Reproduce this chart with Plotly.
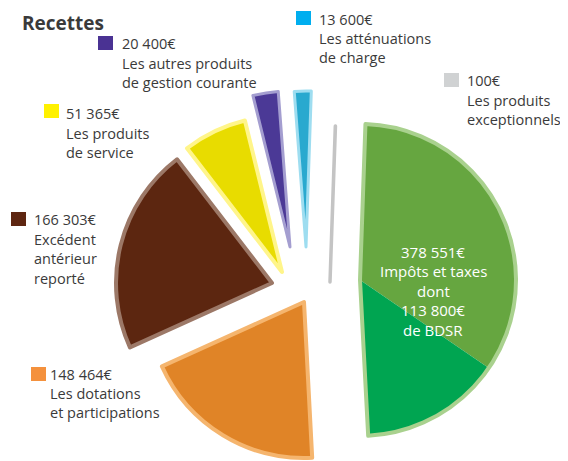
import plotly.graph_objects as go

# ---------------- data ----------------
categories = [
    "Impôts et taxes",
    "Les dotations et participations",
    "Excédent antérieur reporté",
    "Les produits de service",
    "Les autres produits de gestion courante",
    "Les atténuations de charge",
    "Les produits exceptionnels",
]
amounts = [378551, 148464, 166303, 51365, 20400, 13600, 100]
amount_labels = ["378 551€", "148 464€", "166 303€", "51 365€", "20 400€", "13 600€", "100€"]
bdsr = 113800  # part of "Impôts et taxes"
bdsr_label = "113 800€"

# label lines as printed on the chart
label_lines = {
    1: ["Les dotations", "et participations"],
    2: ["Excédent", "antérieur", "reporté"],
    3: ["Les produits", "de service"],
    4: ["Les autres produits", "de gestion courante"],
    5: ["Les atténuations", "de charge"],
    6: ["Les produits", "exceptionnels"],
}

# ---------------- styles / layout ----------------
OFF = 8                      # page body margin of the html page
W, H = 568 - OFF, 461 - OFF  # figure size so that it fills the window
R = 156
ROT = 2
FONT = "'Open Sans', Lato, sans-serif"
FS = 14.5
LINE = 19.4
TEXT = "#3a3a3a"

fill_colors = ["#66A640", "#E08427", "#5C2610", "#E8DC00", "#4B3996", "#29A9CF", "#BEBEBE"]
bevel_colors = ["#A9D18E", "#F5B56E", "#9C7867", "#FFF58A", "#A49ED0", "#9EDDF0", "#C4C4C4"]
bevel_widths = [4, 4, 4, 4, 3, 3, 3.5]
bdsr_color = "#00A551"
legend_colors = ["#66A640", "#F4913D", "#5E2611", "#FFF100", "#4A3293", "#00AEEF", "#D0D2D3"]

# apex (page pixel) where each exploded slice sits
slice_centers = [(360, 280), (304, 302), (272, 283), (282, 272), (290, 247), (306, 247), (330, 282)]

# label blocks in page pixels: (square left, square top, text x, first line y)
label_pos = {
    1: (31, 367, 49, 374),
    2: (11, 212, 33, 220),
    3: (44, 104, 65, 114),
    4: (98, 36, 121, 44),
    5: (296, 11, 318, 19),
    6: (444, 73, 466, 81),
}

TRANSP = "rgba(0,0,0,0)"


def px(x):
    return (x - OFF) / W


def py(y):
    return 1 - (y - OFF) / H


def domain_for(center):
    cx, cy = center
    x0 = max(0.0, px(cx - R))
    x1 = min(1.0, px(cx + R))
    y0 = max(0.0, py(cy + R))
    y1 = min(1.0, py(cy - R))
    return dict(x=[x0, x1], y=[y0, y1])


def pie(values, colors, lcolors, lwidths, center):
    return go.Pie(
        values=values,
        labels=[str(i) for i in range(len(values))],
        sort=False,
        direction="clockwise",
        rotation=ROT,
        marker=dict(colors=colors, line=dict(color=lcolors, width=lwidths)),
        textinfo="none",
        hoverinfo="skip",
        showlegend=False,
        domain=domain_for(center),
    )


fig = go.Figure()
n = len(amounts)

# green slice split into "Impôts et taxes" remainder and BDSR
split_vals = [amounts[0] - bdsr, bdsr] + amounts[1:]
split_cols = [fill_colors[0], bdsr_color] + [TRANSP] * (n - 1)
fig.add_trace(pie(split_vals, split_cols, [TRANSP] * len(split_vals), [0] * len(split_vals), slice_centers[0]))

# one trace per visible slice (exploded individually)
for i in range(n):
    cols = [TRANSP] * n
    lcols = [TRANSP] * n
    lw = [0] * n
    if i != 0:
        cols[i] = fill_colors[i]
    lcols[i] = bevel_colors[i]
    lw[i] = bevel_widths[i]
    fig.add_trace(pie(amounts, cols, lcols, lw, slice_centers[i]))

annotations = []
shapes = []


def text_line(x, y, s, color=TEXT, anchor="left", size=FS):
    return dict(xref="paper", yref="paper", x=px(x), y=py(y),
                xanchor=anchor, yanchor="middle", align=anchor, showarrow=False,
                text=s, font=dict(family=FONT, size=size, color=color))


for i, (sx, sy, tx, ty) in label_pos.items():
    shapes.append(dict(type="rect", xref="paper", yref="paper",
                       x0=px(sx), x1=px(sx + 15), y0=py(sy + 14), y1=py(sy),
                       fillcolor=legend_colors[i], line=dict(width=0)))
    lines = [amount_labels[i]] + label_lines[i]
    for k, s in enumerate(lines):
        annotations.append(text_line(tx - 1, ty + k * LINE, s))

# text inside the green slice
green_lines = [amount_labels[0], categories[0], "dont", bdsr_label, "de BDSR"]
for k, s in enumerate(green_lines):
    annotations.append(text_line(433, 252 + k * LINE, s, color="white", anchor="center", size=15))

# title
annotations.append(dict(xref="paper", yref="paper", x=px(20), y=1.0,
                        xanchor="left", yanchor="top", showarrow=False,
                        text="<b>Recettes</b>",
                        font=dict(family=FONT, size=19, color=TEXT)))

fig.update_layout(
    width=W, height=H,
    margin=dict(l=0, r=0, t=0, b=0),
    paper_bgcolor="white", plot_bgcolor="white",
    annotations=annotations, shapes=shapes,
    font=dict(family=FONT),
)

fig.write_html("out.html")
